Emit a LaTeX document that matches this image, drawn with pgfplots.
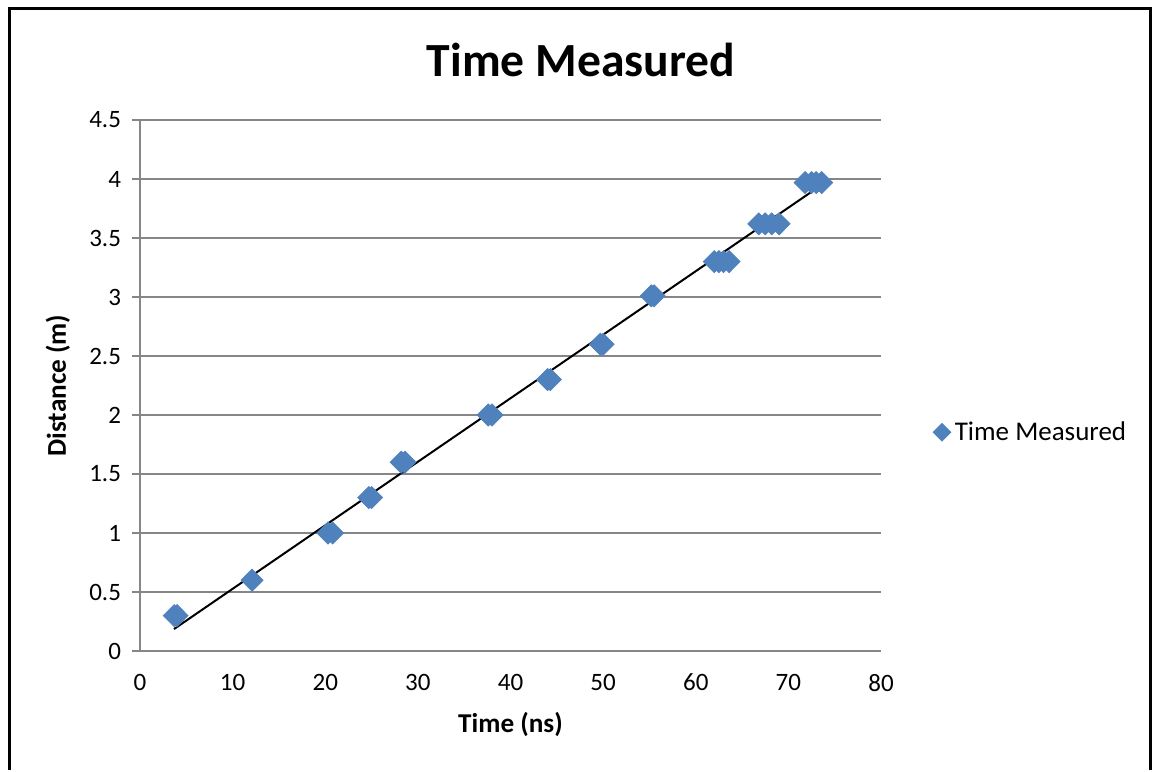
\documentclass[border=0pt]{standalone}
\usepackage{fontspec}
\setmainfont{Carlito}
\usepackage{pgfplots}
\pgfplotsset{compat=1.18}
\definecolor{xlblue}{HTML}{4F81BD}
\definecolor{xlgray}{HTML}{868686}
\begin{document}
\begin{tikzpicture}[x=1pt,y=1pt]
\path (0,0) rectangle (576,385);
\draw[line width=1.5pt,black] (4.5,0) -- (4.5,380.5) -- (575.2,380.5) -- (575.2,0);
\node[font=\fontsize{23.8}{28}\selectfont\bfseries] at (290.5,355) {Time Measured};
\begin{axis}[
  at={(70pt,59.5pt)}, anchor=south west,
  scale only axis, width=370.5pt, height=265.5pt,
  xmin=0, xmax=80, ymin=0, ymax=4.5,
  xtick={0,10,...,80}, ytick={0,0.5,...,4.5},
  yticklabels={0,0.5,1,1.5,2,2.5,3,3.5,4,4.5},
  axis x line=bottom, axis y line=left,
  axis line style={xlgray, line width=0.8pt, -},
  ymajorgrids, grid style={xlgray, line width=0.8pt},
  tick style={xlgray, line width=0.8pt},
  tick align=outside, major tick length=4pt,
  xtick style={draw=none},
  tick label style={font=\fontsize{12.5}{14}\selectfont, black},
  /pgf/number format/assume math mode=true,
  xlabel={\bfseries Time (ns)}, ylabel={\bfseries Distance (m)},
  label style={font=\fontsize{13.6}{16}\selectfont},
  xlabel style={at={(axis description cs:0.5,-0.139)}, anchor=center},
  ylabel style={at={(axis description cs:-0.111,0.5)}, anchor=center},
  xticklabel style={yshift=-4pt},
  yticklabel style={xshift=-2pt},
  legend style={at={(axis description cs:1.07,0.412)}, anchor=west, draw=none,
    font=\fontsize{13.5}{16}\selectfont, inner sep=0pt},
  legend image code/.code={\draw[mark size=4.4pt] plot coordinates {(0.17cm,0cm)};},
  legend cell align=left,
  clip=false,
]
\addplot[only marks, mark=diamond*, mark size=5.5pt, color=xlblue,
  mark options={xscale=1.33, fill=xlblue, draw=xlblue}]
coordinates {
(3.7,0.3) (4.0,0.3)
(12.1,0.6)
(20.3,1.0) (20.8,1.0)
(24.7,1.3) (25.0,1.3)
(28.2,1.6) (28.6,1.6)
(37.6,2.0) (38.0,2.0)
(44.0,2.3) (44.3,2.3)
(49.7,2.6) (50.0,2.6)
(55.2,3.01) (55.5,3.01)
(62.0,3.3) (62.5,3.3) (63.0,3.3) (63.6,3.3)
(66.8,3.62) (67.5,3.62) (68.2,3.62) (69.0,3.62)
(71.8,3.97) (72.5,3.97) (73.0,3.97) (73.6,3.97)
};
\addlegendentry{Time Measured}
\addplot[black, line width=1pt, forget plot] coordinates {(3.67,0.186) (73.4,3.94)};
\end{axis}
\end{tikzpicture}
\end{document}
